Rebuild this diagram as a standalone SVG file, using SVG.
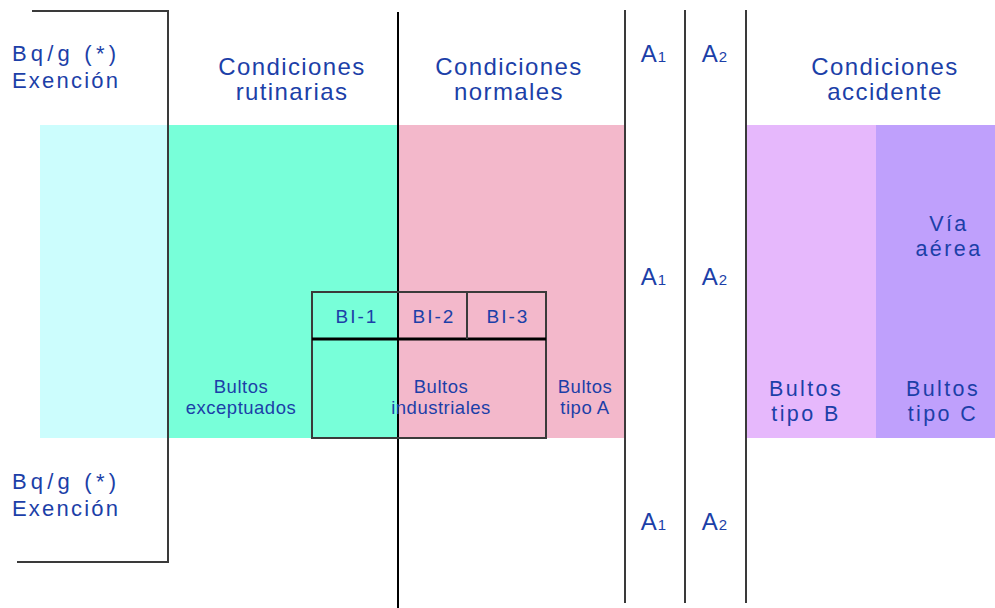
<svg xmlns="http://www.w3.org/2000/svg" width="995" height="608" viewBox="0 0 995 608">
<style>
.t{font-family:"Liberation Sans","Arial",sans-serif;fill:#1c3fa8;}
.h{font-size:24px;letter-spacing:1.4px;}
.e{font-size:22px;letter-spacing:2.2px;}
.q{font-size:22px;letter-spacing:4.2px;}
.m{font-size:18.5px;letter-spacing:0.5px;}
.bi{font-size:19px;letter-spacing:2px;}
.b{font-size:21.5px;letter-spacing:2.4px;}
.a{font-size:24px;letter-spacing:1px;}
.sub{font-size:15px;}
.ln{stroke:#3a3a3a;stroke-width:2;fill:none;}
.bk{stroke:#000;stroke-width:2;fill:none;}
</style>
<rect width="995" height="608" fill="#ffffff"/>
<g id="bands">
<rect x="40" y="125" width="128" height="313" fill="#ccfdfd"/>
<rect x="168" y="125" width="230" height="313" fill="#78ffd9"/>
<rect x="398" y="125" width="227" height="313" fill="#f3b8cb"/>
<rect x="746" y="125" width="130" height="313" fill="#e6b8fc"/>
<rect x="876" y="125" width="119" height="313" fill="#bfa0fc"/>
</g>
<g id="connectors">
<polyline class="ln" points="32,11 168,11 168,562 17,562"/>
<line class="bk" x1="398" y1="12" x2="398" y2="608"/>
<line class="ln" x1="625" y1="10" x2="625" y2="603"/>
<line class="ln" x1="685" y1="10" x2="685" y2="603"/>
<line class="ln" x1="746" y1="10" x2="746" y2="603"/>
</g>
<g id="bi-boxes">
<rect x="312" y="292" width="234" height="146" class="ln"/>
<line x1="312" y1="339" x2="546" y2="339" stroke="#000" stroke-width="3"/>
<line class="ln" x1="467" y1="292" x2="467" y2="339"/>
</g>
<g id="labels-left">
<text class="t q" x="12" y="61">Bq/g (*)</text>
<text class="t e" x="12" y="88">Exención</text>
<text class="t q" x="12" y="489">Bq/g (*)</text>
<text class="t e" x="12" y="516">Exención</text>
</g>
<g id="headers" text-anchor="middle">
<text class="t h" x="292" y="75">Condiciones</text>
<text class="t h" x="292" y="100">rutinarias</text>
<text class="t h" x="509" y="75">Condiciones</text>
<text class="t h" x="509" y="100">normales</text>
<text class="t h" x="885" y="75">Condiciones</text>
<text class="t h" x="885" y="100">accidente</text>
</g>
<g id="a-labels" text-anchor="middle">
<text class="t a" x="654" y="62">A<tspan class="sub">1</tspan></text>
<text class="t a" x="715" y="62">A<tspan class="sub">2</tspan></text>
<text class="t a" x="654" y="285">A<tspan class="sub">1</tspan></text>
<text class="t a" x="715" y="285">A<tspan class="sub">2</tspan></text>
<text class="t a" x="654" y="530">A<tspan class="sub">1</tspan></text>
<text class="t a" x="715" y="530">A<tspan class="sub">2</tspan></text>
</g>
<g id="packages" text-anchor="middle">
<text class="t bi" x="357" y="323">BI-1</text>
<text class="t bi" x="434" y="323">BI-2</text>
<text class="t bi" x="508" y="323">BI-3</text>
<text class="t m" x="241" y="393">Bultos</text>
<text class="t m" x="241" y="414">exceptuados</text>
<text class="t m" x="441" y="393">Bultos</text>
<text class="t m" x="441" y="414">industriales</text>
<text class="t m" x="585" y="393">Bultos</text>
<text class="t m" x="585" y="414">tipo A</text>
<text class="t b" x="806" y="396">Bultos</text>
<text class="t b" x="806" y="421">tipo B</text>
<text class="t b" x="943" y="396">Bultos</text>
<text class="t b" x="943" y="421">tipo C</text>
<text class="t b" x="949" y="231">Vía</text>
<text class="t b" x="949" y="256">aérea</text>
</g>
</svg>
